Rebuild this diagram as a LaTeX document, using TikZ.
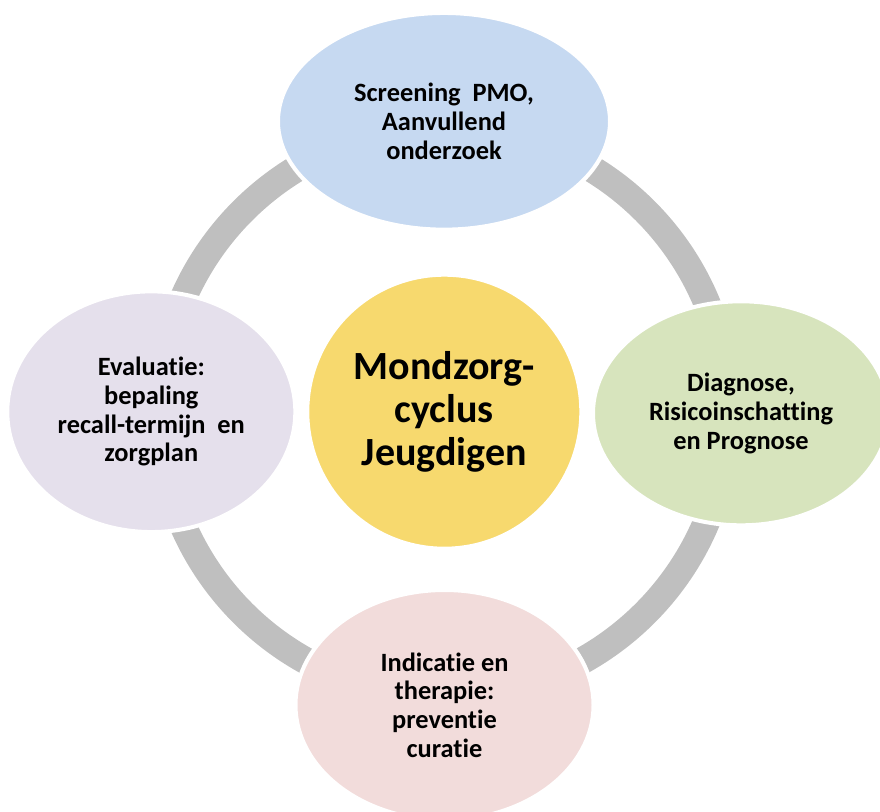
\documentclass[tikz,border=0pt]{standalone}
\usepackage{fontspec}
\setmainfont[Ligatures=NoCommon]{Carlito}
\usepackage{tikz}
\usetikzlibrary{shapes}

\definecolor{ringgray}{HTML}{BFBFBF}
\definecolor{stepblue}{HTML}{C6D9F1}
\definecolor{stepgreen}{HTML}{D7E4BD}
\definecolor{steppink}{HTML}{F2DCDB}
\definecolor{steplilac}{HTML}{E5E0EC}
\definecolor{hubyellow}{HTML}{F7D96E}

\begin{document}
\begin{tikzpicture}[x=0.75pt,y=-0.75pt,
                    every node/.style={ellipse,draw=white,line width=3pt,inner sep=0pt,align=center,
                                       font=\bfseries\fontsize{19.8}{21.5}\selectfont},
                    ring/.style={draw=ringgray,line width=20.25pt}]
                  \useasboundingbox (0,0) rectangle (880,811);
                  \coordinate (mid) at (444,412);
                  \draw[ring] (mid) circle[radius=284.5];
                  \node[fill=stepblue,minimum width=249pt,minimum height=162.5pt] (screen) at (444,121.3)
                       {Screening~ PMO,\\Aanvullend\\onderzoek};
                  \node[fill=stepgreen,minimum width=222pt,minimum height=168pt] (diag) at (741,413.3)
                       {Diagnose,\\Risicoinschatting\\en Prognose};
                  \node[fill=steppink,minimum width=223.5pt,minimum height=172.5pt] (ther) at (444.5,705)
                       {Indicatie en\\therapie:\\preventie\\curatie};
                  \node[fill=steplilac,minimum width=216pt,minimum height=180.5pt] (eval) at (151.3,411.7)
                       {Evaluatie:\\bepaling\\recall-termijn~ en\\zorgplan};
                  \node[circle,fill=hubyellow,minimum size=205.5pt,font=\bfseries\fontsize{30}{32.5}\selectfont] (hub) at (444.3,411.7)
                       {Mondzorg-\\cyclus\\Jeugdigen};
              \end{tikzpicture}
\end{document}
